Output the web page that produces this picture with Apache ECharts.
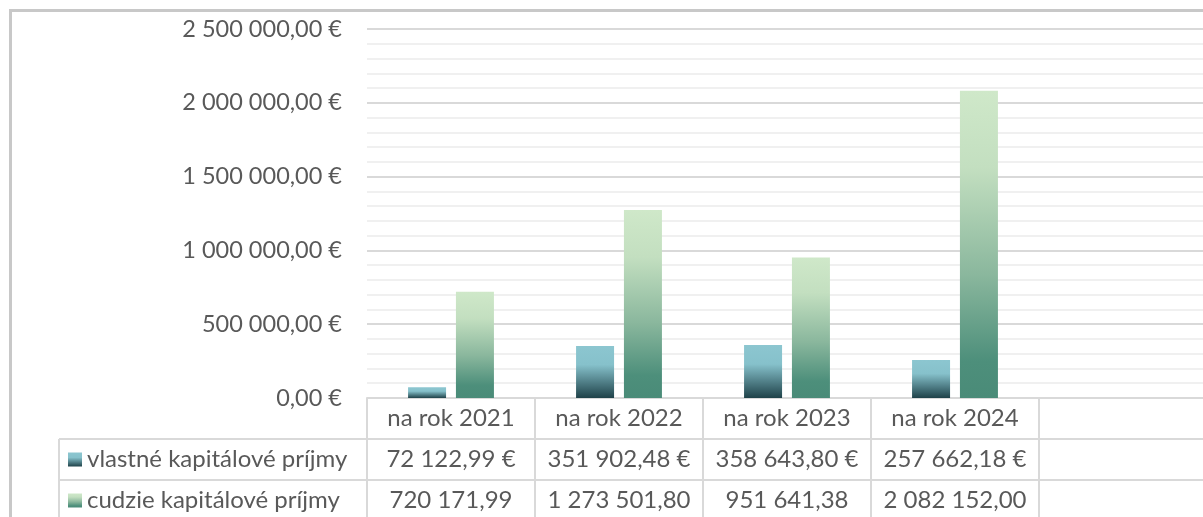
<!DOCTYPE html>
<html>
<head>
<meta charset="utf-8">
<script src="https://cdn.jsdelivr.net/npm/echarts@6/dist/echarts.min.js"></script>
<style>
html, body { margin: 0; padding: 0; background: #fff; }
#chart { width: 1203px; height: 517px; }
</style>
</head>
<body>
<div id="chart"></div>
<script>
// údaje z grafu
const categories = ["na rok 2021", "na rok 2022", "na rok 2023", "na rok 2024", ""];
const seriesNames = ["vlastné kapitálové príjmy", "cudzie kapitálové príjmy"];
const vlastne = [72122.99, 351902.48, 358643.80, 257662.18];
const cudzie = [720171.99, 1273501.80, 951641.38, 2082152.00];
const yTicks = [0, 500000, 1000000, 1500000, 2000000, 2500000];

const FONT = "Lato, 'Open Sans', sans-serif";
const TXT = "#595959";
const LINE = "#d9d9d9";

// 1234567.8 -> "1 234 567,80"
function fmt(n) {
    let parts = n.toFixed(2).split(".");
    let int = parts[0].replace(/\B(?=(\d{3})+(?!\d))/g, " ");
    return int + "," + parts[1];
}

let chart = echarts.init(document.getElementById("chart"));

let blueGrad = new echarts.graphic.LinearGradient(0, 0, 0, 1, [
    { offset: 0, color: "#8cc6d0" },
    { offset: 0.36, color: "#86c1cb" },
    { offset: 1, color: "#1f4249" },
]);
let greenGrad = new echarts.graphic.LinearGradient(0, 0, 0, 1, [
    { offset: 0, color: "#cfe8c9" },
    { offset: 0.25, color: "#c3dfc0" },
    { offset: 0.6, color: "#8ab79d" },
    { offset: 0.88, color: "#4d8f7b" },
    { offset: 1, color: "#4a8b78" },
]);

let tableAxis = (offset, labels) => ({
    type: "category",
    position: "bottom",
    offset: offset,
    data: categories,
    axisLine: { show: true, lineStyle: { color: LINE, width: 2 } },
    axisTick: { show: true, length: 41, interval: 0, lineStyle: { color: LINE, width: 2 } },
    axisLabel: {
        interval: 0,
        margin: 0,
        lineHeight: 41,
        color: TXT,
        fontFamily: FONT,
        fontSize: 24,
        formatter: (v, i) => labels[i] || "",
    },
});

let option = {
    animation: false,
    backgroundColor: "#fff",
    grid: { left: 367, right: -4, top: 29, bottom: 119, outerBoundsMode: "none" },
    legend: {
        orient: "vertical",
        left: 68,
        top: 446,
        padding: 0,
        itemWidth: 14,
        itemHeight: 14,
        itemGap: 14,
        icon: "rect",
        textStyle: { color: TXT, fontFamily: FONT, fontSize: 24, lineHeight: 27 },
        data: seriesNames,
    },
    xAxis: [
        tableAxis(0, categories),
        tableAxis(41, vlastne.map(v => fmt(v) + " €")),
        tableAxis(82, cudzie.map(v => fmt(v))),
    ],
    yAxis: {
        type: "value",
        min: yTicks[0],
        max: yTicks[yTicks.length - 1],
        interval: 500000,
        axisLine: { show: false },
        axisTick: { show: false },
        axisLabel: {
            margin: 25,
            color: TXT,
            fontFamily: FONT,
            fontSize: 23.5,
            formatter: v => fmt(v) + " €",
        },
        splitLine: { lineStyle: { color: LINE, width: 2 } },
        minorTick: { show: false, splitNumber: 5 },
        minorSplitLine: { show: true, lineStyle: { color: "#f0f0f0", width: 2 } },
    },
    series: [
        {
            name: seriesNames[0],
            type: "bar",
            xAxisIndex: 0,
            barWidth: 38,
            barGap: "26%",
            itemStyle: { color: blueGrad },
            data: vlastne,
        },
        {
            name: seriesNames[1],
            type: "bar",
            xAxisIndex: 0,
            barWidth: 38,
            itemStyle: { color: greenGrad },
            data: cudzie,
        },
    ],
    graphic: [
        // okraj grafu
        { type: "rect", shape: { x: 10.5, y: 10.5, width: 1300, height: 700 }, style: { fill: null, stroke: "#c8c8c8", lineWidth: 3 }, silent: true },
        // stĺpec legendy v tabuľke
        { type: "line", shape: { x1: 59, y1: 439, x2: 367, y2: 439 }, style: { stroke: LINE, lineWidth: 2 } },
        { type: "line", shape: { x1: 59, y1: 480, x2: 367, y2: 480 }, style: { stroke: LINE, lineWidth: 2 } },
        { type: "line", shape: { x1: 59, y1: 439, x2: 59, y2: 517 }, style: { stroke: LINE, lineWidth: 2 } },
    ],
};

chart.setOption(option);
</script>
</body>
</html>
